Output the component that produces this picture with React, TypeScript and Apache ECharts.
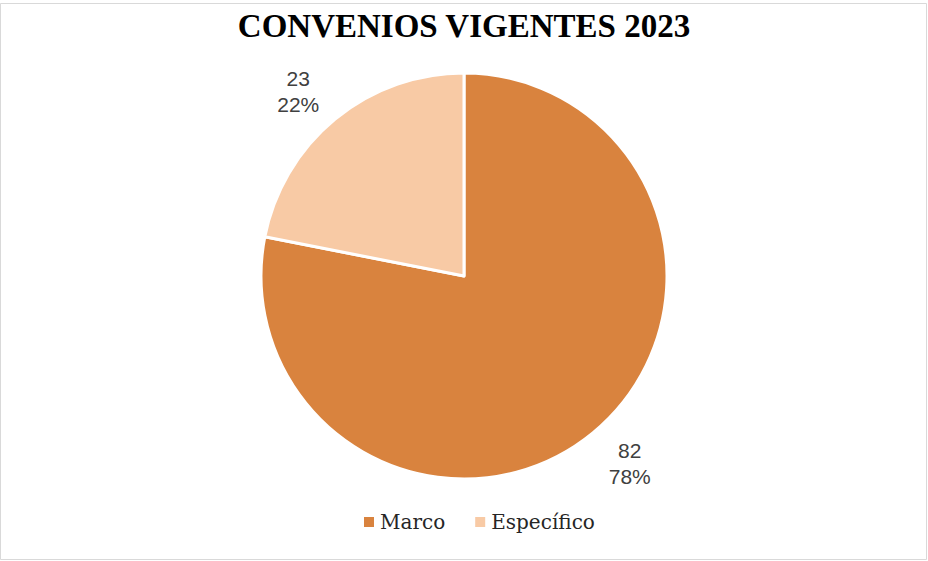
import React, { useEffect, useRef } from "react";
import * as echarts from "echarts";

const title = "CONVENIOS VIGENTES 2023";
const categories = ["Marco", "Específico"];
const values = [82, 23];
const colors = ["#D9833E", "#F8CAA5"];

export default function App() {
  const ref = useRef<HTMLDivElement>(null);
  useEffect(() => {
    document.body.style.margin = "0";
    const chart = echarts.init(ref.current!, null, { renderer: "svg" });
    chart.setOption({
      animation: false,
      backgroundColor: "#ffffff",
      title: {
        text: title,
        left: "center",
        top: 4,
        textStyle: {
          fontFamily: "Liberation Serif",
          fontWeight: "bold",
          fontSize: 33,
          color: "#000000",
        },
      },
      legend: {
        bottom: 24,
        left: 357,
        icon: "rect",
        itemWidth: 12,
        itemHeight: 12,
        itemGap: 28,
        textStyle: { fontFamily: "DejaVu Serif", fontSize: 20, color: "#262626" },
        data: categories,
      },
      graphic: [
        {
          type: "rect",
          shape: { x: 0.5, y: 3.5, width: 926, height: 556 },
          style: { fill: "none", stroke: "#d9d9d9", lineWidth: 1 },
          silent: true,
        },
      ],
      series: [
        {
          type: "pie",
          center: [464, 276],
          radius: 203,
          startAngle: 90,
          clockwise: true,
          percentPrecision: 0,
          data: categories.map((c, i) => ({
            name: c,
            value: values[i],
            itemStyle: { color: colors[i], borderColor: "#ffffff", borderWidth: 3 },
          })),
          label: {
            show: true,
            position: "outside",
            formatter: "{c}\n{d}%",
            fontFamily: "Liberation Sans",
            fontSize: 21,
            lineHeight: 26,
            color: "#404040",
          },
          labelLine: { show: false, length: 47, length2: 0 },
          labelLayout: (p: any) =>
            p.dataIndex === 0
              ? { align: "center", verticalAlign: "middle", dx: 2, dy: -6 }
              : { align: "center", verticalAlign: "middle", dx: -2, dy: 9 },
        },
      ],
    });
    return () => chart.dispose();
  }, []);
  return <div ref={ref} style={{ width: 928, height: 561 }} />;
}
